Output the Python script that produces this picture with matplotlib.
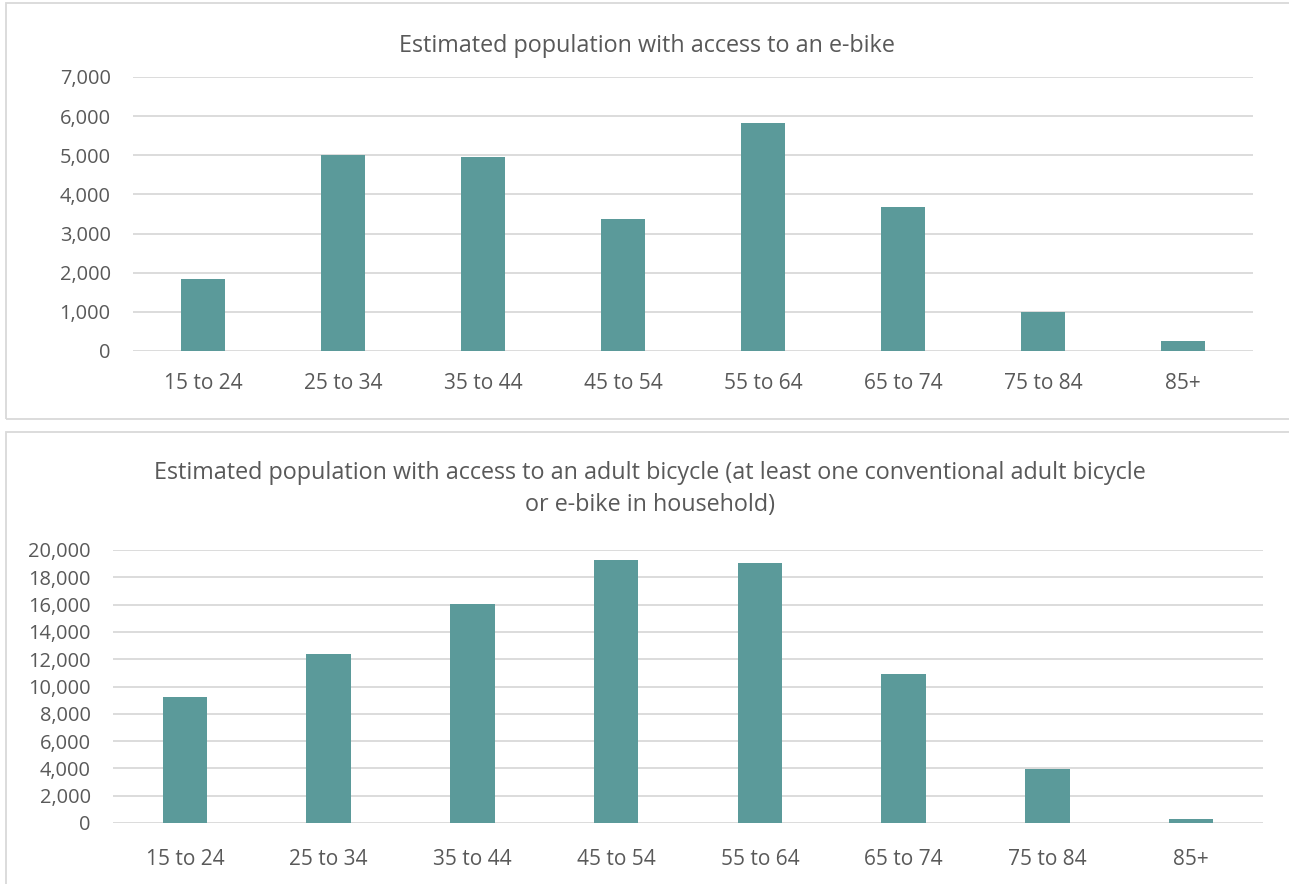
import matplotlib
matplotlib.use("Agg")
import matplotlib.pyplot as plt
from matplotlib.patches import Rectangle
from matplotlib.ticker import FuncFormatter

# Age bands shared by both charts
age_groups = ["15 to 24", "25 to 34", "35 to 44", "45 to 54",
              "55 to 64", "65 to 74", "75 to 84", "85+"]

# Estimated population with access to an e-bike
ebike_values = [1830, 5000, 4950, 3370, 5830, 3690, 1000, 250]

# Estimated population with access to an adult bicycle
bicycle_values = [9230, 12380, 16050, 19270, 19050, 10920, 3950, 300]

ebike_title = "Estimated population with access to an e-bike"
bicycle_title = ("Estimated population with access to an adult bicycle (at least one conventional adult bicycle\n"
                 "or e-bike in household)")

bar_colour = "#5B9A9A"
text_colour = "#595959"
grid_colour = "#D9D9D9"

plt.rcParams['font.family'] = ['Open Sans', 'DejaVu Sans']

W, H = 1289, 884
fig = plt.figure(figsize=(W / 100, H / 100), dpi=100)


def px_box(x0, y0, x1, y1):
    """ Convert pixel box (top-left origin) to figure fraction rect. """
    return [x0 / W, 1 - y1 / H, (x1 - x0) / W, (y1 - y0) / H]


def style_axes(ax, ymax, ystep, xpad):
    ax.set_ylim(0, ymax)
    ax.set_xlim(-0.5, len(age_groups) - 0.5)
    ax.set_yticks(range(0, ymax + 1, ystep))
    ax.yaxis.set_major_formatter(FuncFormatter(lambda v, p: f"{int(v):,}"))
    ax.grid(axis='y', color=grid_colour, linewidth=1.3)
    ax.set_axisbelow(True)
    for side in ['top', 'right', 'left', 'bottom']:
        ax.spines[side].set_visible(False)
    ax.tick_params(axis='y', length=0, labelsize=14.4, labelcolor=text_colour, pad=16)
    ax.tick_params(axis='x', length=0, labelsize=15, labelcolor=text_colour, pad=xpad)


# Outer chart borders
fig.patches.append(Rectangle((6 / W, 1 - 419 / H), 1.2, (419 - 3) / H,
                             transform=fig.transFigure, fill=False,
                             edgecolor=grid_colour, linewidth=1.3))
fig.patches.append(Rectangle((6 / W, -0.2), 1.2, 0.2 + (884 - 432) / H,
                             transform=fig.transFigure, fill=False,
                             edgecolor=grid_colour, linewidth=1.3))

# Top chart: e-bike
ax1 = fig.add_axes(px_box(133, 77, 1253, 351))
ax1.bar(age_groups, ebike_values, width=0.314, color=bar_colour)
style_axes(ax1, 7000, 1000, 16)
fig.text(647 / W, 1 - 46 / H, ebike_title, ha='center', va='center',
         fontsize=16.8, color=text_colour)

# Bottom chart: adult bicycle
ax2 = fig.add_axes(px_box(113, 550, 1263, 823))
ax2.bar(age_groups, bicycle_values, width=0.31, color=bar_colour)
style_axes(ax2, 20000, 2000, 19)
fig.text(650 / W, 1 - 489 / H, bicycle_title, ha='center', va='center',
         fontsize=16.8, color=text_colour, linespacing=1.4)

fig.savefig("out.png", dpi=100)
